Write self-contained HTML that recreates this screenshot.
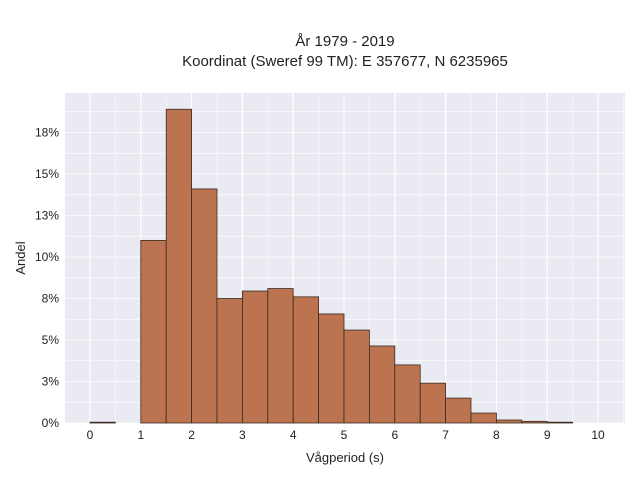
<!DOCTYPE html>
<html><head><meta charset="utf-8"><style>
body{margin:0;background:#fff;font-family:"Liberation Sans",sans-serif;}
svg text{font-family:"Liberation Sans",sans-serif;fill:#222;}
</style></head><body>
<svg id="chart" width="640" height="480">
<text x="345" y="46" text-anchor="middle" font-size="15">År 1979 - 2019</text>
<text x="345" y="66" text-anchor="middle" font-size="15">Koordinat (Sweref 99 TM): E 357677, N 6235965</text>
<rect x="65" y="93" width="560" height="330" fill="#eaeaf2"/>
<g id="grid"></g><g id="bars"></g><g id="axes"></g>
<text x="345" y="462" text-anchor="middle" font-size="13">Vågperiod (s)</text>
<text transform="translate(25,258) rotate(-90)" text-anchor="middle" font-size="13">Andel</text>
</svg>
<script>
const binStarts=[0,0.5,1,1.5,2,2.5,3,3.5,4,4.5,5,5.5,6,6.5,7,7.5,8,8.5,9];
const shares=[0.0005,0,0.110,0.189,0.141,0.075,0.0795,0.081,0.076,0.0657,0.056,0.0464,0.035,0.024,0.015,0.006,0.0018,0.001,0.0005];
const xTicks=[0,1,2,3,4,5,6,7,8,9,10];
const yTicks=[0,0.025,0.05,0.075,0.1,0.125,0.15,0.175];
const binWidth=0.5;
const NS="http://www.w3.org/2000/svg";
const x=v=>90+v*50.8;
const y=v=>423-v*1660;
const grid=document.getElementById('grid'),bars=document.getElementById('bars'),axes=document.getElementById('axes');
function mk(tag,attrs,parent){const e=document.createElementNS(NS,tag);for(const k in attrs)e.setAttribute(k,attrs[k]);parent.appendChild(e);return e;}
for(let v=-0.5;v<=10.5;v+=0.5){const gx=x(v);if(gx<65||gx>625)continue;
const l=mk('line',{x1:gx,x2:gx,y1:93,y2:423,stroke:'#fff','stroke-width':Number.isInteger(v)?1.2:0.6},grid);

}
for(let v=0;v<=0.19;v+=0.0125){const gy=y(v);if(gy<93)continue;
const l=mk('line',{x1:65,x2:625,y1:gy,y2:gy,stroke:'#fff','stroke-width':0.8},grid);

}
binStarts.forEach((b,i)=>{if(shares[i]<=0)return;
const r=mk('rect',{x:x(b),y:y(shares[i]),width:x(b+binWidth)-x(b),height:423-y(shares[i]),fill:'#bb7350',stroke:'#3a2a20','stroke-width':0.8},bars);

});
xTicks.forEach(v=>{const t=mk('text',{x:x(v),y:439,'text-anchor':'middle','font-size':12},axes);t.textContent=v;

});
yTicks.forEach(v=>{const t=mk('text',{x:59,y:y(v)+4,'text-anchor':'end','font-size':12},axes);t.textContent=Math.round(v*100)+'%';

});
</script>
</body></html>
